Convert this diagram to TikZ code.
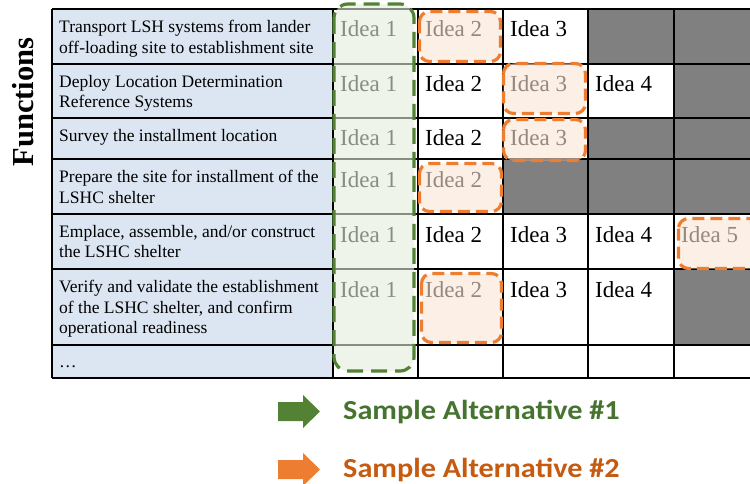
\documentclass[tikz,border=0pt]{standalone}
\usepackage{fontspec}
\setmainfont{Liberation Serif}
\newfontfamily\legendfont{Carlito}

\definecolor{fnblue}{HTML}{DCE6F2}
\definecolor{cellgray}{HTML}{808080}
\definecolor{altgreen}{HTML}{548235}
\definecolor{altgreenfill}{HTML}{E3ECDC}
\definecolor{altgreentext}{HTML}{467430}
\definecolor{altorange}{HTML}{ED7D31}
\definecolor{altorangefill}{HTML}{F8E4D5}
\definecolor{altorangetext}{HTML}{C55A11}

\tikzset{
  fn/.style={below right,inner sep=0,align=left,font=\fontsize{17.5}{20.5}\selectfont},
  idea/.style={anchor=base west,inner sep=0,font=\fontsize{23}{26}\selectfont},
  alt1/.style={draw=altgreen,line width=3.2pt,dash pattern=on 16pt off 8pt,
    fill=altgreenfill,fill opacity=.6,rounded corners=14pt},
  alt2/.style={draw=altorange,line width=3.2pt,dash pattern=on 12pt off 6pt,
    fill=altorangefill,fill opacity=.6,rounded corners=10pt},
  legend/.style={anchor=base west,inner sep=0,xscale=1.1,
    font=\legendfont\bfseries\fontsize{27.5}{30}\selectfont},
}

\begin{document}
\begin{tikzpicture}[x=1pt,y=-1pt]
\clip (0,0) rectangle (750,484);

% function column and blocked cells
\fill[fnblue]   ( 52,  9) rectangle (333,378);
\fill[cellgray] (588,  9) rectangle (759, 64)
                (674, 64) rectangle (759,118)
                (588,118) rectangle (759,159)
                (503,159) rectangle (759,214)
                (674,269) rectangle (759,345);

% grid
\draw[line width=1.2pt]
    ( 52,  9) -- (759,  9)
    ( 52, 64) -- (759, 64)
    ( 52,118) -- (759,118)
    ( 52,159) -- (759,159)
    ( 52,214) -- (759,214)
    ( 52,269) -- (759,269)
    ( 52,345) -- (759,345)
    ( 52,378) -- (759,378)
    ( 52,  9) -- ( 52,378)
    (333,  9) -- (333,378)
    (418,  9) -- (418,378)
    (503,  9) -- (503,378)
    (588,  9) -- (588,378)
    (674,  9) -- (674,378)
    (759,  9) -- (759,378);

\path
    ( 33,102) node [rotate=90,anchor=base,font=\bfseries\fontsize{30.5}{34}\selectfont] (functions) {Functions};

% functions
\path
    ( 59, 20) node [fn] (f1) {Transport LSH systems from lander\\off-loading site to establishment site}
    ( 59, 75) node [fn] (f2) {Deploy Location Determination\\Reference Systems}
    ( 59,129) node [fn] (f3) {Survey the installment location}
    ( 59,170) node [fn] (f4) {Prepare the site for installment of the\\LSHC shelter}
    ( 59,225) node [fn] (f5) {Emplace, assemble, and/or construct\\the LSHC shelter}
    ( 59,280) node [fn] (f6) {Verify and validate the establishment\\of the LSHC shelter, and confirm\\operational readiness}
    ( 59,367) node [fn,anchor=base west] (f7) {\dots};

% ideas
\path
    (340, 37) node [idea] (i11) {Idea 1}
    (425, 37) node [idea] (i12) {Idea 2}
    (510, 37) node [idea] (i13) {Idea 3}
    (340, 92) node [idea] (i21) {Idea 1}
    (425, 92) node [idea] (i22) {Idea 2}
    (510, 92) node [idea] (i23) {Idea 3}
    (595, 92) node [idea] (i24) {Idea 4}
    (340,146) node [idea] (i31) {Idea 1}
    (425,146) node [idea] (i32) {Idea 2}
    (510,146) node [idea] (i33) {Idea 3}
    (340,187) node [idea] (i41) {Idea 1}
    (425,187) node [idea] (i42) {Idea 2}
    (340,242) node [idea] (i51) {Idea 1}
    (425,242) node [idea] (i52) {Idea 2}
    (510,242) node [idea] (i53) {Idea 3}
    (595,242) node [idea] (i54) {Idea 4}
    (681,242) node [idea] (i55) {Idea 5}
    (340,297) node [idea] (i61) {Idea 1}
    (425,297) node [idea] (i62) {Idea 2}
    (510,297) node [idea] (i63) {Idea 3}
    (595,297) node [idea] (i64) {Idea 4};

% alternative 1
\draw[alt1] (334,  4) rectangle (414,371);

% alternative 2
\draw[alt2] (419.5, 11.5) rectangle (500.5, 61.5);
\draw[alt2] (503.5, 63.5) rectangle (585.5,113.5);
\draw[alt2] (503.5,119.5) rectangle (585.5,160.5);
\draw[alt2] (419.5,163.5) rectangle (501.5,211.5);
\draw[alt2] (678.5,218.5) rectangle (770  ,268.5);
\draw[alt2] (421.5,273.5) rectangle (501.5,342.5);

% legend
\fill[altgreen]
    (278,402) -- (303,402) -- (303,395) -- (320,411.5)
 -- (303,428) -- (303,421) -- (278,421) -- cycle;
\fill[altorange]
    (278,460) -- (303,460) -- (303,453) -- (320,469.5)
 -- (303,486) -- (303,479) -- (278,479) -- cycle;
\path
    (343,419) node [legend,text=altgreentext]  (alt1label) {Sample Alternative \#1}
    (343,477) node [legend,text=altorangetext] (alt2label) {Sample Alternative \#2};
\end{tikzpicture}
\end{document}
